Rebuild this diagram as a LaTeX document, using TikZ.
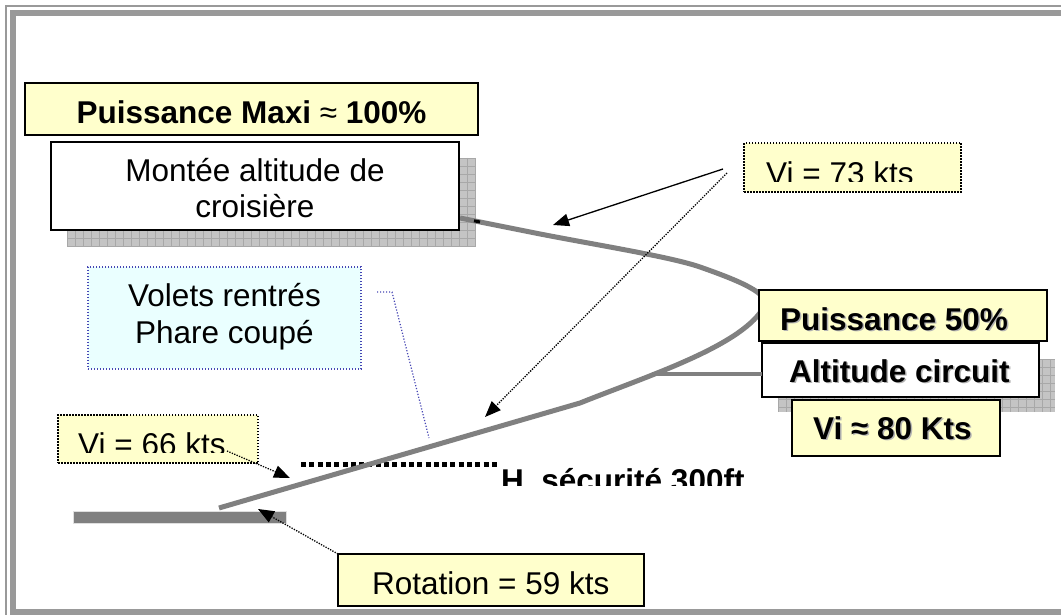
\documentclass[tikz,border=0pt]{standalone}
\usepackage{fontspec}
\setmainfont{Liberation Sans}
\usetikzlibrary{arrows.meta}
\definecolor{boxyellow}{RGB}{255,255,204}
\definecolor{paleCyan}{RGB}{234,255,255}
\definecolor{pathgray}{RGB}{128,128,128}
\definecolor{framegray}{RGB}{153,153,153}
\definecolor{shadowgray}{RGB}{196,196,196}
\definecolor{gridgray}{RGB}{168,168,168}
\definecolor{calloutblue}{RGB}{70,70,180}
\begin{document}
\begin{tikzpicture}[x=1pt,y=-1pt,
  box/.style={draw=black, line width=1.5pt, inner sep=0pt, outer sep=0pt, anchor=north west},
  ybox/.style={box, fill=boxyellow},
  wbox/.style={box, fill=white},
  dbox/.style={box, fill=boxyellow, dash pattern=on 1.5pt off 1.5pt},
  cbox/.style={box, fill=paleCyan, draw=calloutblue, line width=1.2pt, dash pattern=on 1.2pt off 1.8pt},
  txt/.style={inner sep=0pt, anchor=base, font=\fontsize{31.5}{36}\selectfont},
  btxt/.style={txt, font=\fontsize{31.5}{36}\selectfont\bfseries},
  tshadow/.style={text=gray!60},
  flight/.style={draw=pathgray, line width=5pt},
  ptr/.style={-{Triangle[length=16pt,width=12.5pt]}, line width=1.3pt},
  dptr/.style={ptr, dash pattern=on 1.3pt off 1.3pt}
]
\useasboundingbox (0,0) rectangle (1061,615);
\fill[white] (0,0) rectangle (1061,615);
% frame
\fill[framegray] (5,5) rectangle (1061,7);
\fill[framegray] (5,5) rectangle (7,615);
\fill[framegray] (10,10) rectangle (1061,16);
\fill[framegray] (10,10) rectangle (16,615);
\fill[framegray] (10,609) rectangle (1061,615);
% shadows with grid
\fill[shadowgray] (67,158) rectangle (476,247);
\foreach \gx in {67,75,...,476} \draw[gridgray, line width=0.6pt] (\gx,158) -- (\gx,247);
\foreach \gy in {158,166,...,247} \draw[gridgray, line width=0.6pt] (67,\gy) -- (476,\gy);
\fill[shadowgray] (778,359) rectangle (1055,412);
\foreach \gx in {778,786,...,1055} \draw[gridgray, line width=0.6pt] (\gx,359) -- (\gx,412);
\foreach \gy in {359,367,...,412} \draw[gridgray, line width=0.6pt] (778,\gy) -- (1055,\gy);
% safety height line
\coordinate (hs1) at (301,464);
\coordinate (hs2) at (498,464);
\draw[line width=5pt, dash pattern=on 5pt off 3.3pt] (hs1) -- (hs2);
% flight path
\coordinate (liftoff) at (219,508);
\coordinate (climbend) at (460,218);
\coordinate (branch) at (652,374);
\draw[flight] (liftoff) -- (580,403) .. controls (650,375) and (745,345) .. (765,305)
  .. controls (768,293) and (740,281) .. (700,267)
  .. controls (670,256.5) and (590,244) .. (530,232) -- (climbend);
\draw[black, line width=3pt] (474,220.8) -- (480,222);
% runway
\node[box, draw=gray!25, line width=1pt, fill=pathgray, minimum width=213pt, minimum height=12pt] (runway) at (73,511) {};
% boxes
\node[ybox, minimum width=453pt, minimum height=52pt] (pmaxi) at (25,83) {};
\node[wbox, minimum width=408pt, minimum height=88pt] (montee) at (51,142) {};
\node[dbox, minimum width=217pt, minimum height=49pt] (vi73) at (744,143) {};
\node[cbox, minimum width=273pt, minimum height=102pt] (volets) at (88,267) {};
\node[dbox, minimum width=200pt, minimum height=48pt] (vi66) at (58,415) {};
\node[ybox, line width=2pt, minimum width=288pt, minimum height=51pt] (p50) at (759,290) {};
\node[wbox, line width=2pt, minimum width=277pt, minimum height=54pt] (alt) at (762,343) {};
\node[ybox, line width=2pt, minimum width=208pt, minimum height=56pt] (vi80) at (792,400) {};
\node[ybox, minimum width=306pt, minimum height=52pt] (rot) at (338,554) {};
% circuit altitude branch
\draw[flight, line width=4pt] (branch) -- (branch -| alt.west);
% texts
\node[btxt] (tpmaxi) at (251.5,124) {Puissance Maxi {\mdseries ≈} 100\%};
\node[txt] (tmontee1) at (255,182) {Montée altitude de};
\node[txt] (tmontee2) at (255,218) {croisière};
\node[txt] (tvolets1) at (224.5,306) {Volets rentrés};
\node[txt] (tvolets2) at (224.5,343) {Phare coupé};
\begin{scope}
  \clip (744,143) rectangle (961,182);
  \node[txt, anchor=base west] (tvi73) at (766,184.5) {Vi = 73 kts};
\end{scope}
\begin{scope}
  \clip (58,415) rectangle (258,452);
  \node[txt, anchor=base west] (tvi66) at (78,455.5) {Vi = 66 kts};
\end{scope}
\begin{scope}
  \clip (500,440) rectangle (800,485);
  \node[btxt, anchor=base west] (thsec) at (501,491.5) {H. sécurité 300ft};
\end{scope}
\node[btxt, tshadow, anchor=base west] at (781.5,331.5) {Puissance 50\%};
\node[btxt, anchor=base west] (tp50) at (780,330) {Puissance 50\%};
\node[btxt, tshadow, anchor=base west] at (790.5,383.5) {Altitude circuit};
\node[btxt, anchor=base west] (talt) at (789,382) {Altitude circuit};
\node[btxt, tshadow, anchor=base west] at (814.5,440.5) {Vi ≈ 80 Kts};
\node[btxt, anchor=base west] (tvi80) at (813,439) {Vi ≈ 80 Kts};
\node[txt, anchor=base west] (trot) at (372,594) {Rotation = 59 kts};
% callout from flaps box
\coordinate (cb1) at (377,292);
\coordinate (cb2) at (392,292);
\coordinate (cb3) at (429,438);
\draw[calloutblue, line width=1.2pt, dash pattern=on 1.2pt off 1.8pt] (cb1) -- (cb2) -- (cb3);
% arrows
\coordinate (a73s) at (723,169);
\coordinate (a73t) at (553,225);
\draw[ptr] (a73s) -- (a73t);
\coordinate (b73s) at (727,173);
\coordinate (b73t) at (485,417);
\draw[dptr] (b73s) -- (b73t);
\coordinate (a66s) at (227,451);
\coordinate (a66t) at (290,478);
\draw[dptr] (a66s) -- (a66t);
\coordinate (rott) at (258,509);
\draw[dptr] (rot.north west) -- (rott);
\end{tikzpicture}
\end{document}
